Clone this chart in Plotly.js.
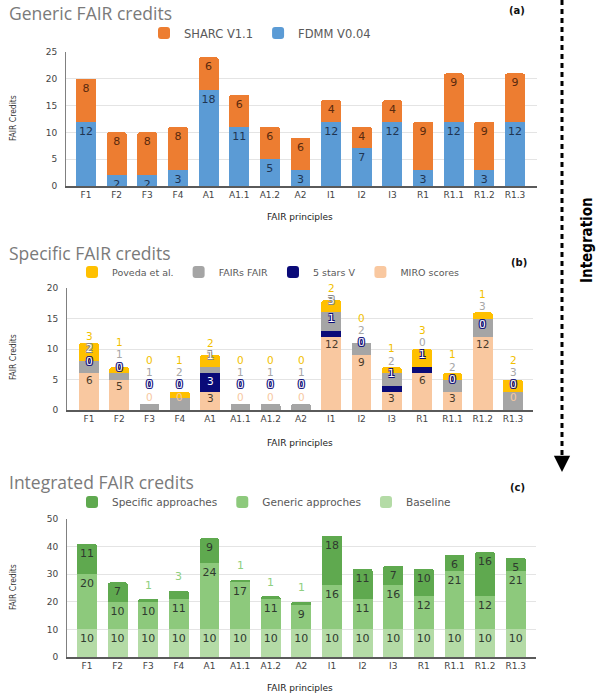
<!DOCTYPE html>
<html><head><meta charset="utf-8">
<script src="https://cdn.plot.ly/plotly-3.0.1.min.js"></script>
<style>html,body{margin:0;padding:0;background:#fff;} #chart{width:598px;height:697px;}</style>
</head><body><div id="chart"></div>
<script>
// ---------- data ----------
const principles = ['F1','F2','F3','F4','A1','A1.1','A1.2','A2','I1','I2','I3','R1','R1.1','R1.2','R1.3'];
// (a) generic
const fdmm  = [12,2,2,3,18,11,5,3,12,7,12,3,12,3,12];
const sharc = [8,8,8,8,6,6,6,6,4,4,4,9,9,9,9];
// (b) specific
const miro      = [6,5,0,0,3,0,0,0,12,9,3,6,3,12,0];
const stars5    = [0,0,0,0,3,0,0,0,1,0,1,1,0,0,0];
const fairsfair = [2,1,1,2,1,1,1,1,3,2,2,0,2,3,3];
const poveda    = [3,1,0,1,2,0,0,0,2,0,1,3,1,1,2];
// (c) integrated
const baseline = [10,10,10,10,10,10,10,10,10,10,10,10,10,10,10];
const generic  = [20,10,10,11,24,17,11,9,16,11,16,12,21,12,21];
const specific = [11,7,1,3,9,1,1,1,18,11,7,10,6,16,5];

// ---------- helpers ----------
const W = 598, H = 697;
const px = v => v / W;
const py = v => 1 - v / H;
const FONT = 'DejaVu Sans, Verdana, sans-serif';
const NARROW = 'Liberation Sans Narrow, DejaVu Sans Condensed, sans-serif';

function xax(l, r, f1, last, anchor) {
  const s = (last - f1) / 14;
  return {
    domain: [px(l), px(r)], type: 'category', anchor: anchor,
    range: [-(f1 - l) / s, 14 + (r - last) / s],
    showline: true, linecolor: '#5a5a5a', linewidth: 1.5, ticks: '',
    showgrid: false, zeroline: false, fixedrange: true,
    tickfont: {family: FONT, size: 9, color: '#444'}
  };
}
function yax(top, bot, maxv, dt, anchor) {
  return {
    domain: [py(bot), py(top)], range: [0, maxv], dtick: dt, anchor: anchor,
    showgrid: true, gridcolor: '#e4e4e4', gridwidth: 1,
    showline: true, linecolor: '#808080', linewidth: 1, ticks: '',
    zeroline: false, fixedrange: true, ticklabelstandoff: 6,
    tickfont: {family: FONT, size: 9, color: '#444'}
  };
}
function bar(y, name, color, xa, ya, leg, tcol, texts) {
  return {
    type: 'bar', x: principles, y: y, name: name, xaxis: xa, yaxis: ya, legend: leg,
    marker: {color: color, line: {width: 0}}, width: 0.65,
    text: texts === undefined ? y.map(String) : texts,
    textposition: 'inside', insidetextanchor: 'end', textangle: 0,
    textfont: {family: FONT, size: 11, color: tcol}, hoverinfo: 'skip'
  };
}

const blank = principles.map(() => '');
const traces = [
  bar(fdmm,  'FDMM V0.04', '#5b9bd5', 'x', 'y', 'legend', '#1f3552'),
  bar(sharc, 'SHARC V1.1', '#ed7d31', 'x', 'y', 'legend', '#5a2a0e'),

  bar(miro,      'MIRO scores', '#f9c8a0', 'x2', 'y2', 'legend2', '#000', blank),
  bar(stars5,    '5 stars V',   '#0a0a78', 'x2', 'y2', 'legend2', '#000', blank),
  bar(fairsfair, 'FAIRs FAIR',  '#a5a5a5', 'x2', 'y2', 'legend2', '#000', blank),
  bar(poveda,    'Poveda et al.', '#ffc000', 'x2', 'y2', 'legend2', '#000', blank),

  bar(baseline, 'Baseline',           '#b4dba6', 'x3', 'y3', 'legend3', '#2f3a2f'),
  bar(generic,  'Generic approches',  '#8dc97c', 'x3', 'y3', 'legend3', '#2f3a2f'),
  bar(specific, 'Specific approaches','#5fa94f', 'x3', 'y3', 'legend3', '#2f3a2f',
      specific.map(v => v >= 5 ? String(v) : ''))
];

const ann = [];
function txt(x, y, text, opts) {
  ann.push(Object.assign({x: x, y: y, xref: 'paper', yref: 'paper', text: text,
    showarrow: false, xanchor: 'center', yanchor: 'middle',
    font: {family: FONT, size: 10, color: '#333'}}, opts || {}));
}
const TF = {family: 'Open Sans, sans-serif', size: 17.5, color: '#7a7a7a'};
// panel titles
txt(px(7), py(13), 'Generic FAIR credits', {xanchor: 'left', font: TF});
txt(px(7), py(253), 'Specific FAIR credits', {xanchor: 'left', font: TF});
txt(px(7), py(482), 'Integrated FAIR credits', {xanchor: 'left', font: TF});
// panel tags
txt(px(517), py(11), '<b>(a)</b>', {font: {family: FONT, size: 10, color: '#111'}});
txt(px(519), py(262), '<b>(b)</b>', {font: {family: FONT, size: 10, color: '#111'}});
txt(px(517), py(487), '<b>(c)</b>', {font: {family: FONT, size: 10, color: '#111'}});
// axis titles
[[118, 217], [357, 443], [587, 688]].forEach(([yc, xt]) => {
  txt(px(13), py(yc), 'FAIR Credits', {textangle: -90, font: {family: NARROW, size: 8.5, color: '#333'}});
  txt(px(300), py(xt), 'FAIR principles', {font: {family: FONT, size: 9, color: '#222'}});
});
// Integration
txt(px(587), py(240), '<b>Integration</b>', {textangle: -90,
  font: {family: 'DejaVu Sans Condensed, DejaVu Sans, sans-serif', size: 15, color: '#000'}});
ann.push({x: px(562), y: py(472), xref: 'paper', yref: 'paper', ax: 0, ay: -9, axref: 'pixel', ayref: 'pixel',
  text: '', showarrow: true, arrowhead: 2, arrowsize: 1.3, arrowwidth: 2.5, arrowcolor: '#000'});

// panel (b) value labels
const outline = c => `1px 1px 0 ${c}, -1px -1px 0 ${c}, 1px -1px 0 ${c}, -1px 1px 0 ${c}`;
principles.forEach((p, i) => {
  const m = miro[i], s = stars5[i], f = fairsfair[i], v = poveda[i];
  const c2 = m + s, c3 = c2 + f, tot = c3 + v;
  const p0 = m > 0 ? m - 1.1 : 2.2;
  const p1 = s >= 3 ? c2 - 1.2 : Math.max(p0 + 2, c2 + 2.1);
  const p2 = Math.max(p1 + 2, c3 + 2);
  const p3 = p2 + 2;
  const base = {xref: 'x2', yref: 'y2', x: p, showarrow: false, xanchor: 'center', yanchor: 'middle'};
  ann.push(Object.assign({}, base, {y: p0, text: String(m),
    font: {family: FONT, size: 10.5, color: m > 0 ? '#4a3b2a' : '#f7c9a2'}}));
  ann.push(Object.assign({}, base, {y: p1, text: String(s),
    font: {family: FONT, size: 10.5, color: '#ffffff', shadow: outline('#0a0a78')}}));
  const inside = p2 <= tot;
  ann.push(Object.assign({}, base, {y: p2, text: String(f),
    font: inside ? {family: FONT, size: 10.5, color: '#ffffff', shadow: outline('#8a8a8a')}
                 : {family: FONT, size: 10.5, color: '#a6a6a6'}}));
  ann.push(Object.assign({}, base, {y: p3, text: String(v),
    font: {family: FONT, size: 10.5, color: '#f2bf00'}}));
});
// panel (c) small specific labels above bars
principles.forEach((p, i) => {
  if (specific[i] < 5) {
    ann.push({xref: 'x3', yref: 'y3', x: p, y: baseline[i] + generic[i] + specific[i], yshift: 14,
      text: String(specific[i]), showarrow: false, font: {family: FONT, size: 11, color: '#8fcf80'}});
  }
});

const legBase = {orientation: 'h', xanchor: 'left', yanchor: 'middle', traceorder: 'reversed',
  bgcolor: 'rgba(0,0,0,0)', itemwidth: 30, font: {family: FONT, size: 10.5, color: '#595959'}};

const layout = {
  width: W, height: H, margin: {l: 0, r: 0, t: 0, b: 0},
  paper_bgcolor: '#fff', plot_bgcolor: '#fff',
  barmode: 'stack', showlegend: true, barcornerradius: 2,
  uniformtext: {mode: 'show', minsize: 11},
  xaxis:  xax(66, 537, 86, 515, 'y'),
  yaxis:  yax(52, 186, 25, 5, 'x'),
  xaxis2: xax(67, 533, 89, 513, 'y2'),
  yaxis2: yax(288, 410, 20, 5, 'x2'),
  xaxis3: xax(67, 536, 87, 515.7, 'y3'),
  yaxis3: yax(519, 657, 50, 10, 'x3'),
  legend:  Object.assign({}, legBase, {x: px(144), y: py(33), font: {family: FONT, size: 11.5, color: '#595959'}}),
  legend2: Object.assign({}, legBase, {x: px(72), y: py(272), font: {family: FONT, size: 9.5, color: '#595959'}}),
  legend3: Object.assign({}, legBase, {x: px(72), y: py(502)}),
  annotations: ann,
  shapes: [{type: 'line', xref: 'paper', yref: 'paper', x0: px(562), x1: px(562), y0: py(0), y1: py(462),
    line: {color: '#000', width: 3, dash: '5px,4px'}}]
};

Plotly.newPlot('chart', traces, layout, {displayModeBar: false, staticPlot: true});
</script></body></html>
